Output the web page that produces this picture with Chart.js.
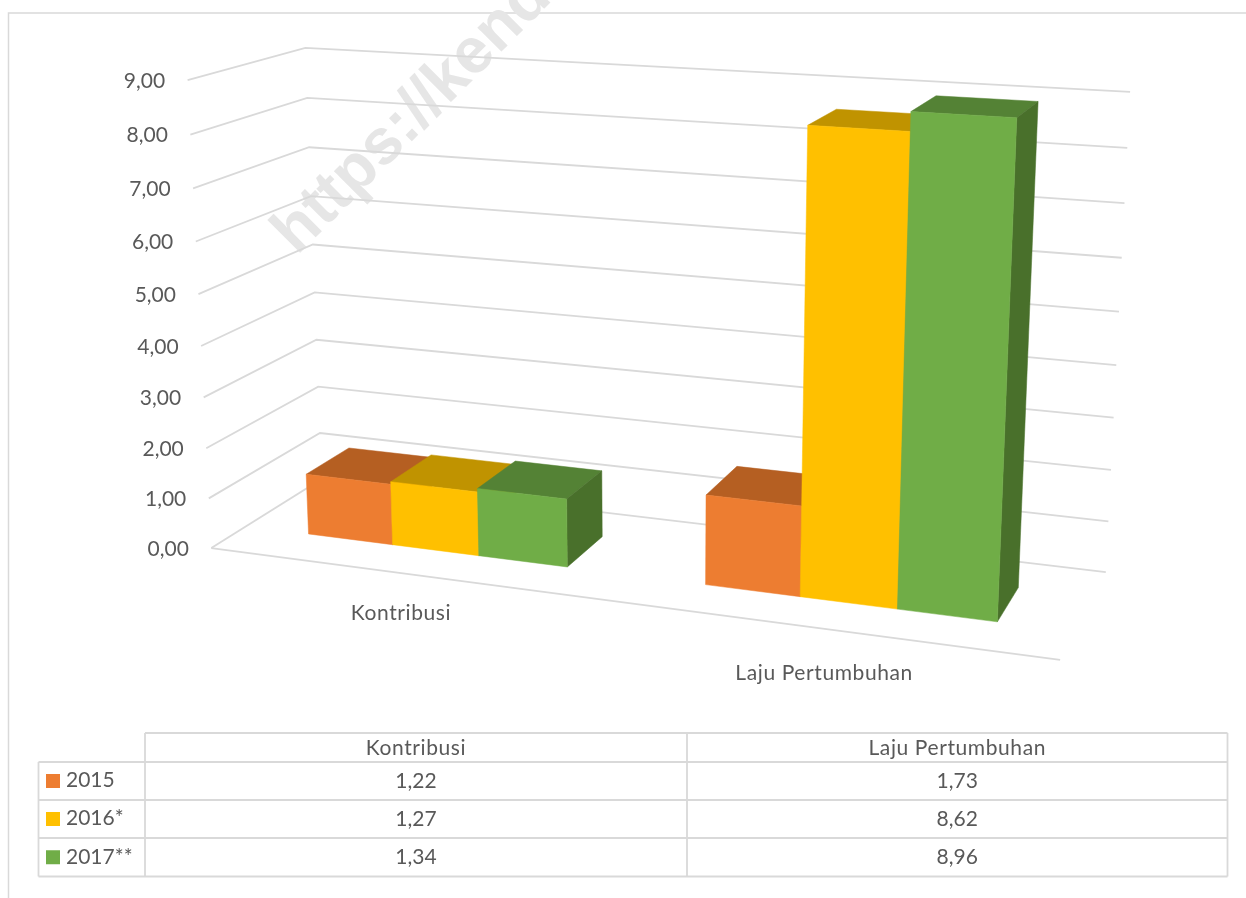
<!DOCTYPE html>
<html><head><meta charset="utf-8">
<style>html,body{margin:0;padding:0;background:#fff;overflow:hidden}canvas{display:block;filter:blur(.4px)}</style>
<script src="https://cdn.jsdelivr.net/npm/chart.js@4"></script>
</head><body>
<canvas id="c" width="1246" height="898"></canvas>
<script>
const categories = ['Kontribusi', 'Laju Pertumbuhan'];
const seriesNames = ['2015', '2016*', '2017**'];
const values2015 = [1.22, 1.73];
const values2016 = [1.27, 8.62];
const values2017 = [1.34, 8.96];
const frontColors = ['#ED7D31', '#FFC000', '#70AD47'];
const topColors = ['#B55F22', '#C09300', '#548235'];
const sideColors = ['#A0521C', '#A87F00', '#49702B'];
const FONT = 'Lato, sans-serif';
const TEXT = '#595959', GRID = '#D9D9D9';
const fmt = v => v.toFixed(2).replace('.', ',');

// camera calibration: [u, v, depth] -> picture position
const camera = [
 [0,0,0,212,548],[1,0,0,1060,660],[0,0,1,321,479],[1,0,1,1106,572],
 [0,1,1,306,48],[1,1,1,1130,92],[0,1,0,187,80]
];
function solveCamera(pts){
  const n=11, A=Array.from({length:n},()=>new Array(n+1).fill(0));
  const add=r=>{for(let i=0;i<n;i++){for(let j=0;j<n;j++)A[i][j]+=r[i]*r[j];A[i][n]+=r[i]*r[n];}};
  for(const [u,v,z,X,Y] of pts){
    add([u,v,z,1,0,0,0,0,-X*u,-X*v,-X*z,X]);
    add([0,0,0,0,u,v,z,1,-Y*u,-Y*v,-Y*z,Y]);
  }
  for(let i=0;i<n;i++){
    let p=i;for(let k=i+1;k<n;k++)if(Math.abs(A[k][i])>Math.abs(A[p][i]))p=k;
    [A[i],A[p]]=[A[p],A[i]];
    for(let k=0;k<n;k++){if(k===i)continue;const f=A[k][i]/A[i][i];for(let j=i;j<=n;j++)A[k][j]-=f*A[i][j];}
  }
  return A.map((r,i)=>r[n]/r[i]);
}
const M = solveCamera(camera);
const project=(u,v,z)=>{
  const w=M[8]*u+M[9]*v+M[10]*z+1;
  return [(M[0]*u+M[1]*v+M[2]*z+M[3])/w,(M[4]*u+M[5]*v+M[6]*z+M[7])/w];
};
const depthFront=0.30, depthBack=0.70;

function poly(ctx,pts,color){
  ctx.fillStyle=color;ctx.strokeStyle=color;ctx.lineWidth=.5;
  ctx.beginPath();pts.forEach((p,i)=>i?ctx.lineTo(p[0],p[1]):ctx.moveTo(p[0],p[1]));
  ctx.closePath();ctx.fill();ctx.stroke();
}
function seg(ctx,a,b){ctx.beginPath();ctx.moveTo(a[0],a[1]);ctx.lineTo(b[0],b[1]);ctx.stroke();}
function text(ctx,s,x,y,align,spacing){
  ctx.font='21px '+FONT;ctx.fillStyle=TEXT;ctx.textAlign=align;ctx.textBaseline='middle';
  ctx.letterSpacing=(spacing||0)+'px';ctx.fillText(s,x,y);ctx.letterSpacing='0px';
}

const plugin3d={
  id:'plugin3d',
  beforeDraw(chart){
    const ctx=chart.ctx;ctx.save();
    ctx.fillStyle='#fff';ctx.fillRect(0,0,1246,898);
    ctx.strokeStyle=GRID;ctx.lineWidth=1.5;
    ctx.beginPath();ctx.moveTo(8.5,898);ctx.lineTo(8.5,13);ctx.lineTo(1246,13);ctx.stroke();
    ctx.translate(297,256);ctx.rotate(-Math.PI/4);
    ctx.font='bold 64px "Liberation Sans"';ctx.fillStyle='#E6E6E6';ctx.textAlign='left';ctx.textBaseline='alphabetic';
    ctx.fillText('https://kend',0,0);
    ctx.restore();
  },
  beforeDatasetsDraw(chart){
    const ctx=chart.ctx,a=chart.chartArea,xs=chart.scales.x,ys=chart.scales.y;
    const U=px=>(px-a.left)/a.width, V=py=>(a.bottom-py)/a.height;
    ctx.save();
    ctx.strokeStyle=GRID;ctx.lineWidth=1.8;
    ys.ticks.forEach(t=>{
      const v=V(ys.getPixelForValue(t.value));
      const p0=project(0,v,0),p1=project(0,v,1),p2=project(1,v,1);
      ctx.beginPath();ctx.moveTo(p0[0],p0[1]);ctx.lineTo(p1[0],p1[1]);ctx.lineTo(p2[0],p2[1]);ctx.stroke();
      text(ctx,fmt(t.value),p0[0]-22.5,p0[1]+1,'right');
    });
    seg(ctx,project(0,0,0),project(1,0,0));
    categories.forEach((c,i)=>{
      const p=project(U(xs.getPixelForTick(i)),0,0);
      text(ctx,c,p[0]-3.5,p[1]+(i?44:40),'center',.6);
    });
    chart.data.datasets.forEach((ds,di)=>{
      chart.getDatasetMeta(di).data.forEach(el=>{
        const {x,y,base,width}=el.getProps(['x','y','base','width'],true);
        const u0=U(x-width/2),u1=U(x+width/2),v0=V(base),v1=V(y);
        const f=depthFront,b=depthBack;
        poly(ctx,[project(u0,v1,f),project(u1,v1,f),project(u1,v1,b),project(u0,v1,b)],topColors[di]);
        poly(ctx,[project(u1,v0,f),project(u1,v1,f),project(u1,v1,b),project(u1,v0,b)],sideColors[di]);
        poly(ctx,[project(u0,v0,f),project(u1,v0,f),project(u1,v1,f),project(u0,v1,f)],frontColors[di]);
      });
    });
    ctx.restore();
  },
  beforeDatasetDraw(){return false;},
  afterDraw(chart){
    const ctx=chart.ctx;ctx.save();
    const xs=[38.5,145,687,1227.5],ysr=[733,762,800,838,876.5];
    ctx.strokeStyle=GRID;ctx.lineWidth=1.8;
    ctx.beginPath();
    ctx.moveTo(xs[1],ysr[0]);ctx.lineTo(xs[3],ysr[0]);
    for(let r=1;r<5;r++){ctx.moveTo(xs[0],ysr[r]);ctx.lineTo(xs[3],ysr[r]);}
    ctx.moveTo(xs[0],ysr[1]);ctx.lineTo(xs[0],ysr[4]);
    for(let k=1;k<4;k++){ctx.moveTo(xs[k],ysr[0]);ctx.lineTo(xs[k],ysr[4]);}
    ctx.stroke();
    categories.forEach((c,i)=>text(ctx,c,(xs[i+1]+xs[i+2])/2,ysr[0]+15,'center',.6));
    chart.data.datasets.forEach((ds,di)=>{
      const cy=(ysr[di+1]+ysr[di+2])/2;
      ctx.fillStyle=frontColors[di];ctx.fillRect(46,cy-7,14,14);
      text(ctx,ds.label,66,cy-.5,'left');
      ds.data.forEach((v,i)=>text(ctx,fmt(v),(xs[i+1]+xs[i+2])/2,cy,'center'));
    });
    ctx.restore();
  }
};

new Chart(document.getElementById('c'),{
  type:'bar',
  data:{labels:categories,datasets:[
    {label:seriesNames[0],data:values2015,backgroundColor:frontColors[0]},
    {label:seriesNames[1],data:values2016,backgroundColor:frontColors[1]},
    {label:seriesNames[2],data:values2017,backgroundColor:frontColors[2]}
  ]},
  options:{
    responsive:false,animation:false,events:[],
    layout:{padding:{left:100,right:100,top:100,bottom:100}},
    datasets:{bar:{categoryPercentage:0.665,barPercentage:1}},
    scales:{
      x:{display:false},
      y:{display:false,min:0,max:9,ticks:{stepSize:1}}
    },
    plugins:{legend:{display:false},tooltip:{enabled:false},title:{display:false}}
  },
  plugins:[plugin3d]
});
</script>
</body></html>
